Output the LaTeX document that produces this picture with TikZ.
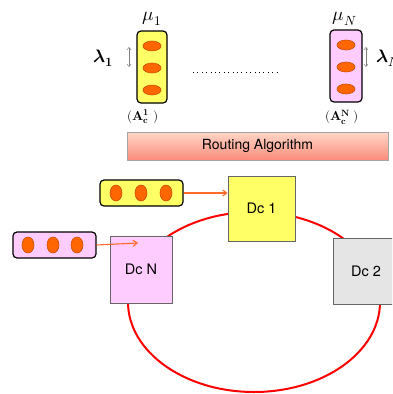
\documentclass[tikz,border=0pt]{standalone}
\usepackage{amsmath}
\usepackage{fontspec}
\usepackage{unicode-math}
\setmainfont{TeX Gyre Heros}
\setmathfont{Latin Modern Math}
\usepackage{tikz}
\usetikzlibrary{arrows.meta,positioning,shapes.geometric,shadows}
\definecolor{capyellow}{HTML}{FFFF66}
\definecolor{cappink}{HTML}{FFCCFF}
\definecolor{seedorange}{HTML}{FF6600}
\definecolor{seedrim}{HTML}{C94E00}
\definecolor{dcgray}{HTML}{E5E5E5}
\definecolor{dcrim}{HTML}{666666}
\definecolor{ringred}{HTML}{FF0000}
\definecolor{feedorange}{HTML}{FF6A2B}
\definecolor{routetop}{HTML}{FFD6C8}
\definecolor{routebottom}{HTML}{FA8C7A}

\begin{document}
\begin{tikzpicture}[
  x=1pt,y=-1pt,
  capsule/.style={draw=black,line width=1.2pt,rounded corners=4pt,inner sep=0pt},
  seed/.style={ellipse,draw=seedrim,fill=seedorange,line width=0.6pt,inner sep=0pt},
  dc/.style={draw=dcrim,line width=0.8pt,inner sep=0pt,
    font=\fontsize{14.5}{16}\selectfont,
    drop shadow={opacity=0.2,shadow xshift=1pt,shadow yshift=-1pt}},
  feed/.style={-{Straight Barb[length=4pt,width=6pt]},draw=feedorange,line width=1.1pt},
  rate/.style={{Straight Barb[length=2.5pt,width=4pt]}-{Straight Barb[length=2.5pt,width=4pt]},
    draw=gray,line width=0.5pt},
  lbl/.style={font=\fontsize{14}{16}\selectfont,inner sep=0pt}
]
\clip (0,0) rectangle (392,394);

% ring of data centres
\draw[ringred,line width=2pt] (254,302) ellipse [x radius=126, y radius=90];

% queues on top
\node[capsule,fill=capyellow,minimum width=30,minimum height=72] (q1) at (152,67) {};
\node[capsule,fill=cappink,minimum width=32,minimum height=72] (qN) at (346,66) {};
\foreach \y in {46,68,90} {
  \node[seed,minimum width=18,minimum height=10] at (152,\y) {};
  \node[seed,minimum width=18,minimum height=10] at (346,\y-1) {};
}
\node[lbl,font=\fontsize{19}{21}\selectfont] (mu1) at (152,19) {$\mu_{1}$};
\node[lbl,font=\fontsize{19}{21}\selectfont] (muN) at (345,19) {$\mu_{N}$};
\node[lbl,font=\fontsize{18}{20}\selectfont] (lam1) at (103,58) {$\symbfit{\lambda}_{\symbf{1}}$};
\node[lbl,font=\fontsize{18}{20}\selectfont,anchor=west] (lamN) at (376,58) {$\symbfit{\lambda}_{\symbfit{N}}$};
\node[lbl,font=\fontsize{13}{15}\selectfont] (a1) at (143,117) {$(\symbf{A}^{\symbf{1}}_{\symbf{c}}\;)$};
\node[lbl,font=\fontsize{13}{15}\selectfont] (aN) at (342,117) {$(\symbf{A}^{\symbf{N}}_{\symbf{c}}\;)$};
\coordinate (r1top) at (129,47);
\coordinate (r1bot) at (129,67);
\coordinate (rNtop) at (366,47);
\coordinate (rNbot) at (366,67);
\draw[rate] (r1top) -- (r1bot);
\draw[rate] (rNtop) -- (rNbot);
\coordinate (dotsL) at (193,72);
\coordinate (dotsR) at (279,72);
\draw[line width=1pt,dash pattern=on 1pt off 3.4pt] (dotsL) -- (dotsR);

% routing
\node[draw=gray!70,line width=0.5pt,top color=routetop,bottom color=routebottom,
  minimum width=261,minimum height=28,inner sep=0pt,lbl,
  drop shadow={opacity=0.2,shadow xshift=1pt,shadow yshift=-1pt}]
  (route) at (257.5,146) {Routing Algorithm};

% data centres
\node[dc,fill=capyellow,minimum width=67,minimum height=65] (dc1) at (261.5,208.5) {Dc 1};
\node[dc,fill=cappink,minimum width=62,minimum height=67] (dcN) at (141,269.5) {Dc N};
\node[dc,fill=dcgray,minimum width=66,minimum height=66] (dc2) at (366,271) {Dc 2};

% arriving queues
\node[capsule,fill=capyellow,minimum width=83,minimum height=26] (in1) at (141.5,193) {};
\node[capsule,fill=cappink,minimum width=83,minimum height=26] (inN) at (54.5,245) {};
\foreach \x in {116,141,166} {
  \node[seed,minimum width=12,minimum height=16] at (\x,193) {};
}
\foreach \x in {28,53,77} {
  \node[seed,minimum width=12,minimum height=16] at (\x,245) {};
}
\coordinate (inNend) at (138,243);
\draw[feed] (in1.east) -- (dc1.west |- in1.east);
\draw[feed] (inN.east) -- (inNend);
\end{tikzpicture}
\end{document}
